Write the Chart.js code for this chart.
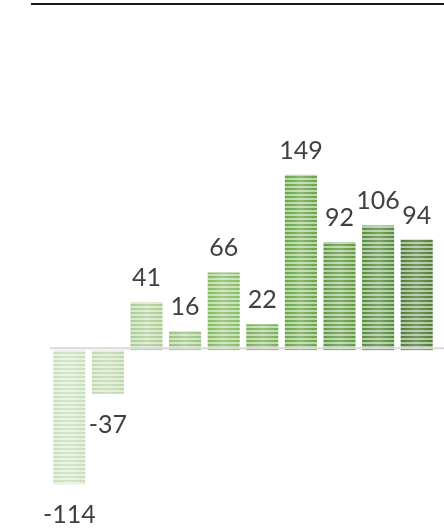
<!DOCTYPE html>
<html>
<head>
<meta charset="utf-8">
<style>
  html, body { margin: 0; padding: 0; background: #fff; }
  #wrap { width: 444px; height: 529px; }
</style>
<script src="https://cdn.jsdelivr.net/npm/chart.js@4/dist/chart.umd.min.js"></script>
</head>
<body>
<div id="wrap"><canvas id="chart"></canvas></div>
<script>
var categories = ['1', '2', '3', '4', '5', '6', '7', '8', '9', '10'];
var values = [-114, -37, 41, 16, 66, 22, 149, 92, 106, 94];

// one green per bar, light to dark
var barColors = ['#c9dfba', '#bfd8ac', '#a8cc90', '#99c37c', '#84bb60', '#77b054',
                 '#68a646', '#5e993f', '#558c39', '#4e7e33'];

// striped fill: 2px colour, 2px lighter
function stripes(color) {
  var c = document.createElement('canvas');
  c.width = 4; c.height = 4;
  var g = c.getContext('2d');
  g.fillStyle = color;
  g.fillRect(0, 0, 4, 4);
  g.fillStyle = 'rgba(255,255,255,0.55)';
  g.fillRect(0, 2, 4, 2);
  return g.createPattern(c, 'repeat');
}

var decor = {
  id: 'decor',
  afterDatasetsDraw: function(chart) {
    var ctx = chart.ctx;
    var y0 = chart.scales.y.getPixelForValue(0);
    var meta = chart.getDatasetMeta(0);

    ctx.save();
    // soft sheen across each bar
    meta.data.forEach(function(bar) {
      var l = bar.x - bar.width / 2, r = bar.x + bar.width / 2;
      var gr = ctx.createLinearGradient(l, 0, r, 0);
      gr.addColorStop(0, 'rgba(255,255,255,0)');
      gr.addColorStop(0.5, 'rgba(255,255,255,0.22)');
      gr.addColorStop(1, 'rgba(255,255,255,0)');
      ctx.fillStyle = gr;
      ctx.fillRect(l, Math.min(bar.y, bar.base), bar.width, Math.abs(bar.base - bar.y));
    });

    // zero line
    ctx.strokeStyle = '#d9d9d9';
    ctx.lineWidth = 2;
    ctx.beginPath();
    ctx.moveTo(50, y0 - 2);
    ctx.lineTo(chart.width, y0 - 2);
    ctx.stroke();

    // rule across the top
    ctx.strokeStyle = '#1a1a1a';
    ctx.lineWidth = 2;
    ctx.beginPath();
    ctx.moveTo(31, 4);
    ctx.lineTo(chart.width, 4);
    ctx.stroke();

    // value labels
    ctx.fillStyle = '#404040';
    ctx.font = '25px Lato';
    ctx.textAlign = 'center';
    ctx.textBaseline = 'alphabetic';
    meta.data.forEach(function(bar, i) {
      var v = values[i];
      var y = v >= 0 ? bar.y - 16 : bar.y + 39;
      ctx.fillText(String(v), bar.x, y);
    });
    ctx.restore();
  }
};

new Chart(document.getElementById('chart'), {
  type: 'bar',
  data: {
    labels: categories,
    datasets: [{
      data: values,
      backgroundColor: barColors.map(stripes),
      borderWidth: 0,
      categoryPercentage: 1,
      barPercentage: 0.83
    }]
  },
  options: {
    responsive: true,
    maintainAspectRatio: false,
    animation: false,
    layout: { padding: { left: 50, right: 8, top: 3, bottom: 0 } },
    plugins: { legend: { display: false }, tooltip: { enabled: false } },
    scales: {
      x: { display: false },
      y: { display: false, min: -152, max: 295 }
    }
  },
  plugins: [decor]
});
</script>
</body>
</html>
